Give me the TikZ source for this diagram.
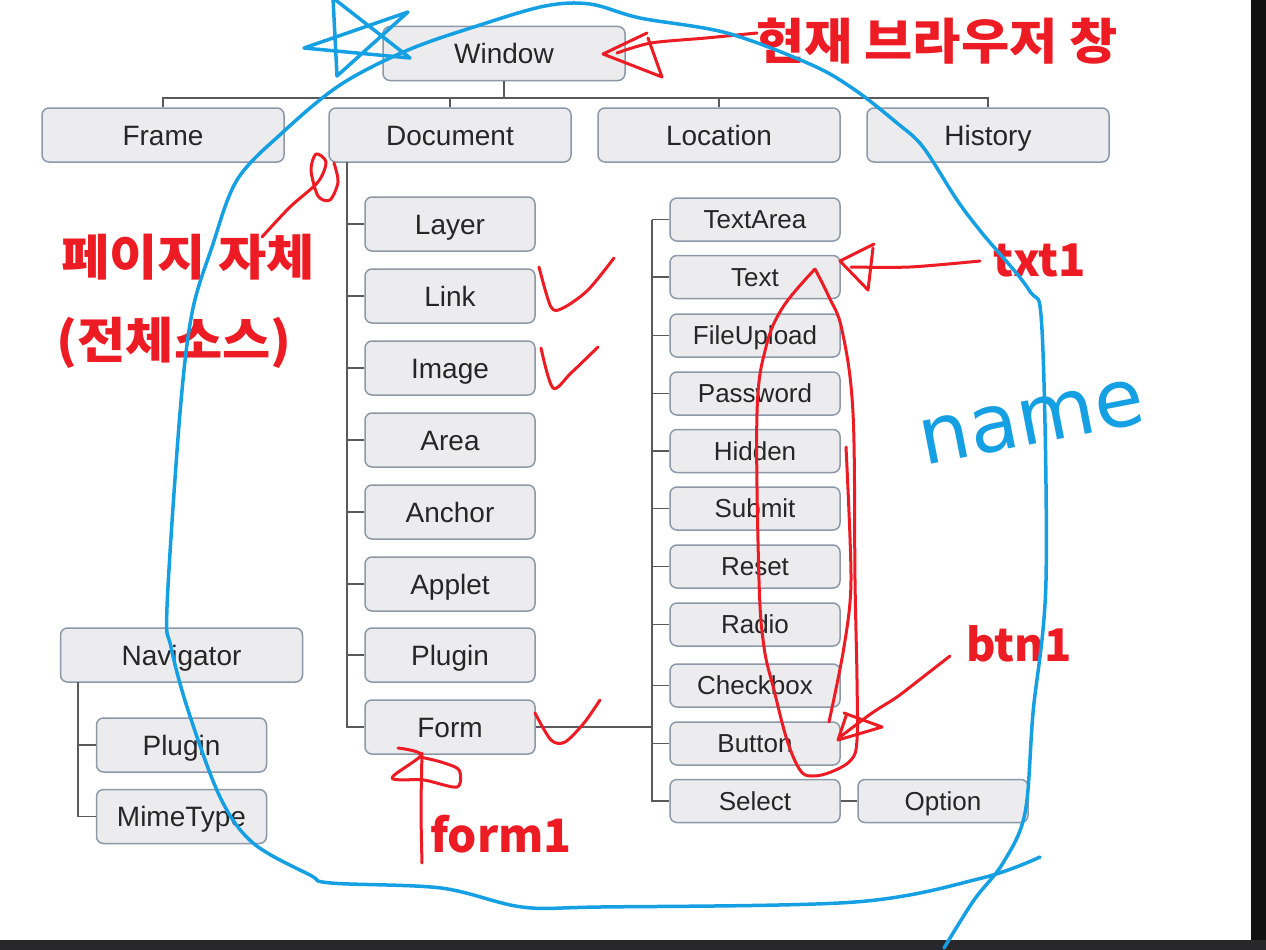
\documentclass[tikz,border=0pt]{standalone}
\usepackage{fontspec}
\setmainfont{Liberation Sans}
\newfontfamily\boxfont{Liberation Sans}
\newfontfamily\kofont{Noto Sans CJK KR}[FakeStretch=1.07]
\newfontfamily\tagfont{Noto Sans CJK KR}
\newfontfamily\handfont{DejaVu Sans}
\usepackage{tikz}
\definecolor{boxfill}{RGB}{236,236,238}
\definecolor{boxline}{RGB}{140,152,168}
\definecolor{treecolor}{RGB}{90,90,90}
\definecolor{penred}{RGB}{237,28,36}
\definecolor{penblue}{RGB}{20,160,226}
\definecolor{darkband}{RGB}{17,17,17}
\definecolor{bottomband}{RGB}{40,40,42}

\begin{document}
\begin{tikzpicture}[
    x=1pt, y=-1pt,
    objbox/.style={draw=boxline, line width=1.5pt, fill=boxfill, rounded corners=7pt, minimum width=242pt, minimum height=54pt, inner sep=0pt, font=\boxfont\fontsize{28}{32}\selectfont, text=black!85, text height=20pt, text depth=0pt},
    subbox/.style={objbox, minimum width=170pt},
    ctrlbox/.style={subbox, minimum height=43pt, font=\boxfont\fontsize{26}{30}\selectfont, text height=18.6pt},
    treeline/.style={draw=treecolor, line width=1.6pt},
    redpen/.style={draw=penred, line width=3pt, line cap=round, line join=round},
    bluepen/.style={draw=penblue, line width=3.5pt, line cap=round, line join=round},
    redtext/.style={text=penred, inner sep=0pt, font=\kofont\bfseries\fontsize{49}{56}\selectfont},
    redtag/.style={text=penred, inner sep=0pt, font=\tagfont\bfseries\fontsize{45}{50}\selectfont}
]
    % Page and screen edges
    \fill[white] (0,0) rectangle (1266,950);
    \fill[darkband] (1251,0) rectangle (1266,950);
    \fill[bottomband] (0,940) rectangle (1266,950);
    \useasboundingbox (0,0) rectangle (1266,950);

    % Window and its four children
    \node[objbox] (win) at (504,53.5) {Window};
    \node[objbox] (frame) at (163,135) {Frame};
    \node[objbox] (doc) at (450,135) {Document};
    \node[objbox] (loc) at (719,135) {Location};
    \node[objbox] (hist) at (988,135) {History};
    \coordinate (bus) at (504,98);
    \draw[treeline] (win.south) -- (win.south |- bus);
    \draw[treeline] (frame.north) |- (bus) -| (hist.north);
    \draw[treeline] (doc.north) -- (doc.north |- bus);
    \draw[treeline] (loc.north) -- (loc.north |- bus);

    % Document objects
    \node[subbox] (layer) at (450,224) {Layer};
    \node[subbox] (link) at (450,296) {Link};
    \node[subbox] (image) at (450,368) {Image};
    \node[subbox] (area) at (450,440) {Area};
    \node[subbox] (anchor) at (450,512) {Anchor};
    \node[subbox] (applet) at (450,584) {Applet};
    \node[subbox] (dplugin) at (450,655) {Plugin};
    \node[subbox] (form) at (450,727) {Form};
    \coordinate (dtrunk) at (347,162);
    \draw[treeline] (dtrunk) |- (form.west);
    \draw[treeline] (layer.west) -- (layer.west -| dtrunk);
    \draw[treeline] (link.west) -- (link.west -| dtrunk);
    \draw[treeline] (image.west) -- (image.west -| dtrunk);
    \draw[treeline] (area.west) -- (area.west -| dtrunk);
    \draw[treeline] (anchor.west) -- (anchor.west -| dtrunk);
    \draw[treeline] (applet.west) -- (applet.west -| dtrunk);
    \draw[treeline] (dplugin.west) -- (dplugin.west -| dtrunk);

    % Form elements
    \node[ctrlbox] (textarea) at (755,219.5) {TextArea};
    \node[ctrlbox] (text) at (755,277) {Text};
    \node[ctrlbox] (upload) at (755,335.5) {FileUpload};
    \node[ctrlbox] (passwd) at (755,393.5) {Password};
    \node[ctrlbox] (hidden) at (755,451) {Hidden};
    \node[ctrlbox] (submit) at (755,508.5) {Submit};
    \node[ctrlbox] (reset) at (755,566.5) {Reset};
    \node[ctrlbox] (radio) at (755,624.5) {Radio};
    \node[ctrlbox] (checkbox) at (755,685.5) {Checkbox};
    \node[ctrlbox] (button) at (755,743.5) {Button};
    \node[ctrlbox] (select) at (755,801) {Select};
    \node[ctrlbox] (option) at (943,801) {Option};
    \coordinate (ftrunk) at (652,219.5);
    \draw[treeline] (form.east) -- (form.east -| ftrunk);
    \draw[treeline] (ftrunk) |- (select.west);
    \draw[treeline] (textarea.west) -- (textarea.west -| ftrunk);
    \draw[treeline] (text.west) -- (text.west -| ftrunk);
    \draw[treeline] (upload.west) -- (upload.west -| ftrunk);
    \draw[treeline] (passwd.west) -- (passwd.west -| ftrunk);
    \draw[treeline] (hidden.west) -- (hidden.west -| ftrunk);
    \draw[treeline] (submit.west) -- (submit.west -| ftrunk);
    \draw[treeline] (reset.west) -- (reset.west -| ftrunk);
    \draw[treeline] (radio.west) -- (radio.west -| ftrunk);
    \draw[treeline] (checkbox.west) -- (checkbox.west -| ftrunk);
    \draw[treeline] (button.west) -- (button.west -| ftrunk);
    \draw[treeline] (select) -- (option);

    % Navigator
    \node[objbox] (nav) at (181.5,655) {Navigator};
    \node[subbox] (nplugin) at (181.5,745) {Plugin};
    \node[subbox] (mime) at (181.5,816.5) {MimeType};
    \coordinate (ntrunk) at (78,682);
    \draw[treeline] (ntrunk) |- (mime.west);
    \draw[treeline] (nplugin.west) -- (nplugin.west -| ntrunk);

    % Red notes
    \node[redtext] (curwin) at (937,41) {현재 브라우저 창};
    \node[redtext] (page) at (188,257) {페이지 자체};
    \node[redtext] (source) at (174,343) {(전체소스)};
    \node[redtag] (txtname) at (1040,260) {txt1};
    \node[redtag] (btnname) at (1019,644) {btn1};
    \node[redtag, font=\tagfont\bfseries\fontsize{46}{50}\selectfont] (formname) at (501,834) {form1};

    % Red pen strokes
    \draw[redpen] plot[smooth] coordinates {(757,33) (706,38) (651,43) (617,53)};
    \draw[redpen] (647,33) -- (603,54) -- (662,77) -- (648,38);
    \draw[redpen] plot[smooth] coordinates {(262,237) (290,207) (318,182) (326,162) (316,154) (311,170) (318,196) (330,200) (338,182) (334,163)};
    \draw[redpen] plot[smooth] coordinates {(980,261) (910,267) (851,267)};
    \draw[redpen] (874,244) -- (840,261) -- (868,290) -- (873,248);
    \draw[redpen] plot[smooth, tension=0.6] coordinates {(815,269) (783,307) (766,347) (757,413) (759,580) (764,647) (774,690) (787,740) (800,770) (812,776) (831,772) (851,760) (857,740) (857,680) (855,580) (853,413) (842,330) (829,297) (815,269)};
    \draw[redpen] plot[smooth] coordinates {(846,447) (851,580) (844,647) (829,722)};
    \draw[redpen] plot[smooth] coordinates {(950,656) (923,677) (897,697) (872,713) (840,737)};
    \draw[redpen] (844,713) -- (882,727) -- (838,740) -- (846,716);
    \draw[redpen] plot[smooth] coordinates {(422,863) (421,810) (422,753)};
    \draw[redpen] plot[smooth] coordinates {(398,748) (421,755) (392,778) (424,780) (457,787) (459,770) (441,762) (420,757)};
    \draw[redpen] plot[smooth] coordinates {(539,267) (551,307) (563,308) (588,290) (614,258)};
    \draw[redpen] plot[smooth] coordinates {(541,348) (553,388) (571,373) (598,347)};
    \draw[redpen] plot[smooth] coordinates {(535,713) (551,740) (565,742) (584,723) (600,700)};

    % Blue pen strokes
    \draw[bluepen] (333,-2) -- (337,76) -- (408,12) -- (304,48) -- (410,58) -- (333,-2);
    \draw[bluepen] plot[smooth, tension=0.55] coordinates {(1040,857) (982,878) (855,902) (600,907) (522,907) (441,888) (331,883) (310,875) (253,843) (220,797) (188,710) (171,647) (167,607) (180,413) (192,313) (212,247) (237,180) (282,133) (340,85) (408,50) (480,25) (545,6) (590,4) (640,18) (727,33) (812,65) (855,90) (897,123) (923,147) (957,200) (982,233) (1029,290) (1042,330) (1046,580) (1033,713) (1025,813) (1003,863) (974,900) (944,948)};
    \node[text=penblue, inner sep=0pt, rotate=11, font=\handfont\fontsize{80}{90}\selectfont] (namenote) at (1032,422) {name};
\end{tikzpicture}
\end{document}
